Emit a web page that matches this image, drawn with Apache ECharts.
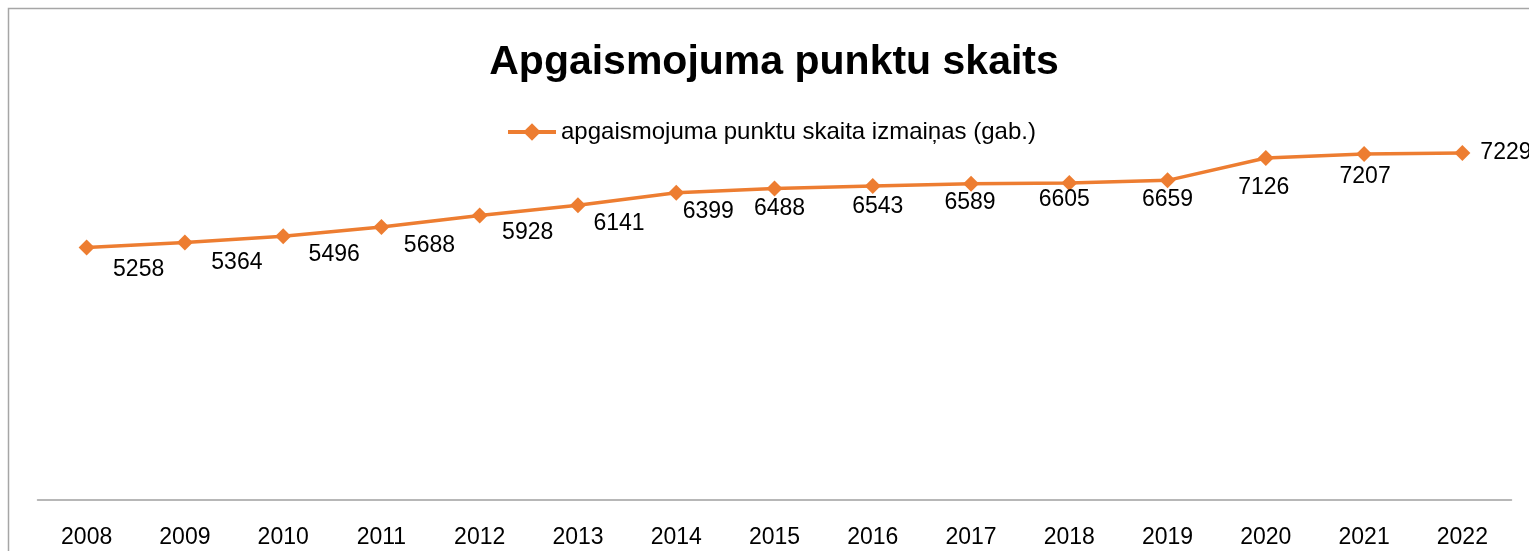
<!DOCTYPE html>
<html>
<head>
<meta charset="utf-8">
<style>
  html, body { margin: 0; padding: 0; background: #fff; }
  #chart { width: 1529px; height: 551px; }
</style>
<script src="https://cdn.jsdelivr.net/npm/echarts@6/dist/echarts.min.js"></script>
</head>
<body>
<div id="chart"></div>
<script>
// data
const years = ['2008', '2009', '2010', '2011', '2012', '2013', '2014', '2015',
  '2016', '2017', '2018', '2019', '2020', '2021', '2022'];
const points = [5258, 5364, 5496, 5688, 5928, 6141, 6399, 6488,
  6543, 6589, 6605, 6659, 7126, 7207, 7229];

// label nudges (px from the marker), as placed in the original
const labelShift = [
  [52, 22], [52, 20], [51, 18], [48, 19], [48, 17], [41, 18], [32, 19], [5, 20],
  [5, 21], [-1, 19], [-5, 17], [0, 19], [-2, 30], [1, 23], null,
];

const orange = '#ED7D31';
const font = '"Liberation Sans", Arial, sans-serif';

const seriesData = points.map((v, i) => {
  const s = labelShift[i];
  if (!s) {
    return { value: v, label: { position: 'right', distance: 10 } };
  }
  return {
    value: v,
    label: { position: 'inside', offset: s, align: 'center', verticalAlign: 'middle' },
  };
});

const chart = echarts.init(document.getElementById('chart'));

chart.setOption({
  animation: false,
  graphic: [
    {
      type: 'rect',
      shape: { x: 8.5, y: 8.5, width: 1600, height: 700 },
      style: { fill: 'none', stroke: '#a6a6a6', lineWidth: 1.5 },
      silent: true,
    },
  ],
  title: {
    text: 'Apgaismojuma punktu skaits',
    left: 774,
    top: 42,
    textAlign: 'center',
    padding: 0,
    textStyle: { fontFamily: font, fontSize: 41, fontWeight: 'bold', color: '#000' },
  },
  legend: {
    left: 506,
    top: 120,
    padding: 0,
    itemWidth: 48,
    itemHeight: 22,
    itemGap: 5,
    lineStyle: { width: 4 },
    textStyle: { fontFamily: font, fontSize: 24, color: '#000' },
  },
  grid: { left: 37.5, right: 17.5, top: 116, bottom: 51 },
  xAxis: {
    type: 'category',
    data: years,
    axisLine: { lineStyle: { color: '#a0a0a0', width: 1.5 } },
    axisTick: { show: false },
    axisLabel: { fontFamily: font, fontSize: 23, color: '#000', margin: 26 },
  },
  yAxis: {
    type: 'value',
    min: 0,
    max: 8000,
    show: false,
    splitLine: { show: false },
  },
  series: [
    {
      name: 'apgaismojuma punktu skaita izmaiņas (gab.)',
      type: 'line',
      data: seriesData,
      symbol: 'diamond',
      symbolSize: 16,
      lineStyle: { color: orange, width: 3.5 },
      itemStyle: { color: orange },
      label: {
        show: true,
        fontFamily: font,
        fontSize: 23,
        color: '#000',
      },
    },
  ],
});
</script>
</body>
</html>
